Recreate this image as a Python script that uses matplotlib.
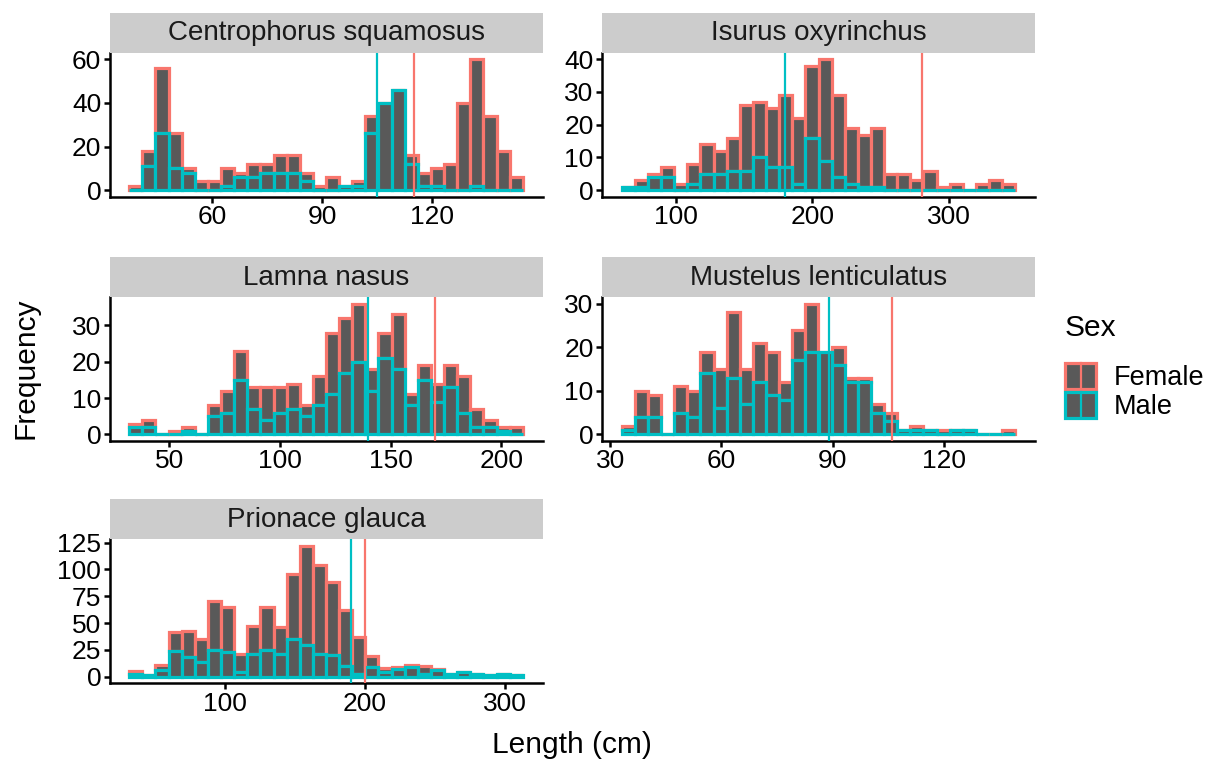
import matplotlib
matplotlib.use("Agg")
import numpy as np
from matplotlib import pyplot as plt
from matplotlib.patches import Rectangle, Patch
from matplotlib.lines import Line2D
from matplotlib.legend_handler import HandlerBase

plt.rcParams['font.family'] = ['Liberation Sans', 'DejaVu Sans']

RED = '#F8766D'
CYAN = '#00BFC4'
FILL = '#595959'

species = ["Centrophorus squamosus", "Isurus oxyrinchus", "Lamna nasus",
           "Mustelus lenticulatus", "Prionace glauca"]

# histogram bins (30 per species): first edge and width, in cm
bin_start = [37.3, 60.5, 31.85, 33.1, 31.8]
bin_width = [3.58, 9.6, 5.93, 3.54, 9.37]

# counts, stacked: male at the bottom, female on top
male_centrophorus = [0, 11, 26, 10, 8, 0, 0, 2, 6, 6, 8, 8, 8, 4, 0, 0, 2, 2, 26, 40, 46, 12, 2, 2, 0, 0, 2, 0, 0, 0]
female_centrophorus = [2, 7, 30, 16, 2, 4, 4, 8, 2, 6, 4, 8, 8, 4, 2, 6, 0, 2, 8, 0, 0, 4, 6, 8, 12, 40, 58, 34, 18, 6]

male_isurus = [1, 1, 4, 4, 0, 2, 5, 5, 6, 6, 10, 7, 7, 2, 16, 9, 4, 2, 1, 1, 0, 0, 0, 0, 0, 0, 0, 0, 0, 0]
female_isurus = [0, 2, 1, 3, 2, 6, 9, 7, 10, 20, 17, 18, 22, 20, 22, 31, 25, 17, 16, 18, 5, 5, 3, 6, 1, 2, 0, 2, 3, 2]

male_lamna = [2, 2, 0, 0, 1, 0, 5, 6, 15, 7, 4, 6, 7, 5, 8, 11, 17, 20, 12, 21, 18, 8, 15, 9, 13, 6, 2, 2, 1, 0]
female_lamna = [1, 2, 0, 1, 1, 0, 3, 6, 8, 6, 9, 7, 7, 3, 8, 17, 15, 16, 6, 7, 15, 3, 4, 5, 6, 10, 5, 2, 1, 2]

male_mustelus = [1, 4, 4, 0, 5, 4, 14, 6, 13, 7, 12, 9, 8, 17, 19, 19, 16, 12, 12, 5, 3, 1, 1, 1, 0, 1, 1, 0, 0, 0]
female_mustelus = [1, 6, 5, 0, 6, 6, 5, 9, 15, 8, 9, 10, 4, 7, 11, 0, 4, 1, 1, 2, 2, 0, 1, 0, 1, 0, 0, 0, 0, 1]

male_prionace = [3, 2, 6, 24, 18, 14, 25, 23, 4, 21, 25, 21, 35, 30, 21, 20, 10, 3, 9, 4, 7, 9, 3, 6, 3, 4, 3, 2, 3, 2]
female_prionace = [2, 0, 5, 18, 25, 21, 46, 42, 17, 26, 40, 25, 61, 92, 83, 68, 52, 34, 10, 4, 2, 2, 7, 1, 0, 0, 0, 0, 0, 0]

males = [male_centrophorus, male_isurus, male_lamna, male_mustelus, male_prionace]
females = [female_centrophorus, female_isurus, female_lamna, female_mustelus, female_prionace]

# vertical reference lines (cm)
female_line = [115, 280, 170, 106, 200]
male_line = [105, 180, 140, 89, 190]

x_ticks = [[60, 90, 120], [100, 200, 300], [50, 100, 150, 200], [30, 60, 90, 120], [100, 200, 300]]
y_ticks = [[0, 20, 40, 60], [0, 10, 20, 30, 40], [0, 10, 20, 30], [0, 10, 20, 30], [0, 25, 50, 75, 100, 125]]

W, H = 1215, 761
fig = plt.figure(figsize=(W / 100, H / 100), dpi=100)

# panel layout in pixels (left, top of plotting area)
col_left = [109.5, 602]
row_top = [52.7, 297, 539.3]
pw, ph = 433, 144
strip_h = 40

for i, name in enumerate(species):
    r, c = divmod(i, 2)
    left = col_left[c]
    top = row_top[r]
    ax = fig.add_axes([left / W, (H - top - ph) / H, pw / W, ph / H])
    sax = fig.add_axes([left / W, (H - top) / H, pw / W, strip_h / H])
    sax.set_facecolor('#CCCCCC')
    sax.set_xticks([])
    sax.set_yticks([])
    for s in sax.spines.values():
        s.set_visible(False)
    sax.text(0.5, 0.48, name, ha='center', va='center', fontsize=20, color='#1A1A1A')

    edges = bin_start[i] + bin_width[i] * np.arange(31)
    m = np.array(males[i])
    f = np.array(females[i])
    ax.bar(edges[:-1], f, width=bin_width[i], bottom=m, align='edge',
           color=FILL, edgecolor=RED, linewidth=2.3, zorder=2)
    ax.bar(edges[:-1], m, width=bin_width[i], align='edge',
           color=FILL, edgecolor=CYAN, linewidth=2.3, zorder=3)
    ax.axvline(female_line[i], color=RED, lw=1.6, zorder=4)
    ax.axvline(male_line[i], color=CYAN, lw=1.6, zorder=4)

    lo = min(edges[0], female_line[i], male_line[i])
    hi = max(edges[-1], female_line[i], male_line[i])
    rng = hi - lo
    ax.set_xlim(lo - 0.05 * rng, hi + 0.05 * rng)
    top_y = (m + f).max()
    ax.set_ylim(-0.05 * top_y, 1.05 * top_y)
    ax.set_xticks(x_ticks[i])
    ax.set_yticks(y_ticks[i])

    for s in ['top', 'right']:
        ax.spines[s].set_visible(False)
    for s in ['left', 'bottom']:
        ax.spines[s].set_linewidth(1.8)
        ax.spines[s].set_color('black')
    ax.tick_params(axis='both', length=4, width=1.8, color='black',
                   labelsize=19, labelcolor='black', pad=2)
    ax.set_facecolor('white')


class KeyHandler(HandlerBase):
    def create_artists(self, legend, orig_handle, xdescent, ydescent,
                       width, height, fontsize, trans):
        col = orig_handle.get_edgecolor()
        rect = Rectangle((-xdescent + 1, -ydescent + 1), width - 2, height - 2,
                         facecolor=FILL, edgecolor=col, lw=2.3, transform=trans)
        line = Line2D([width / 2 - xdescent] * 2, [-ydescent + 1, height - ydescent - 1],
                      color=col, lw=1.6, transform=trans)
        return [rect, line]


handles = [Patch(facecolor=FILL, edgecolor=RED), Patch(facecolor=FILL, edgecolor=CYAN)]
leg = fig.legend(handles, ['Female', 'Male'],
                 handler_map={Patch: KeyHandler()},
                 loc='center left', bbox_to_anchor=(1064 / W, 1 - 391 / H),
                 frameon=False, fontsize=19.5,
                 handlelength=1.25, handleheight=1.25, handletextpad=0.6,
                 labelspacing=0.0, borderpad=0, borderaxespad=0)
fig.text(1065 / W, 1 - 328 / H, 'Sex', ha='left', va='center', fontsize=21.5)

fig.text(572 / W, 1 - 745 / H, 'Length (cm)', ha='center', va='center', fontsize=21.5)
fig.text(25 / W, 1 - 368 / H, 'Frequency', ha='center', va='center', rotation=90, fontsize=21.5)

fig.savefig('out.png', dpi=100, facecolor='white')
